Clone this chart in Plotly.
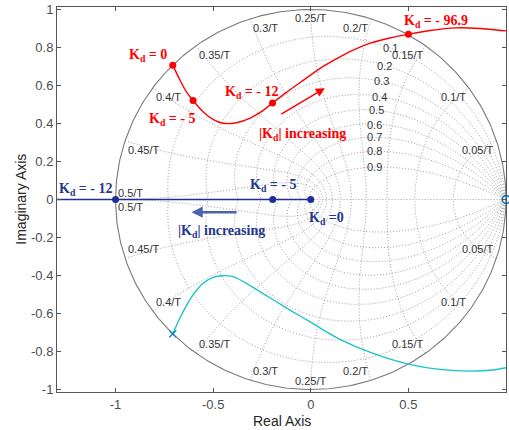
import numpy as np
import plotly.graph_objects as go

# ---------------- data ----------------
# upper complex branch (red)
red_x = [-0.707, -0.671, -0.637, -0.603, -0.552, -0.501, -0.449, -0.381, -0.313, -0.244,
         -0.196, -0.125, -0.039, 0.046, 0.149, 0.200, 0.302, 0.405, 0.504, 0.610,
         0.746, 0.866, 1.003]
red_y = [0.707, 0.630, 0.566, 0.521, 0.462, 0.422, 0.401, 0.404, 0.427, 0.469,
         0.508, 0.564, 0.627, 0.689, 0.750, 0.778, 0.822, 0.850, 0.870, 0.889,
         0.903, 0.900, 0.887]
# lower complex branch (cyan)
cyan_x = [-0.707, -0.671, -0.637, -0.603, -0.552, -0.501, -0.449, -0.398, -0.329, -0.261,
          -0.176, -0.091, -0.005, 0.080, 0.149, 0.319, 0.499, 0.661, 0.815, 0.934, 1.011]
cyan_y = [-0.707, -0.625, -0.558, -0.502, -0.441, -0.410, -0.401, -0.406, -0.441, -0.485,
          -0.538, -0.591, -0.643, -0.696, -0.736, -0.810, -0.866, -0.894, -0.903, -0.897, -0.883]
# real-axis branch (navy)
real_x = [-1.4, 0.0]
real_y = [0.0, 0.0]

# marked gains
red_k_x = [-0.707, -0.603, -0.196, 0.500]
red_k_y = [0.707, 0.521, 0.508, 0.869]
navy_k_x = [0.0, -0.195, -1.0]
navy_k_y = [0.0, 0.0, 0.0]

pole_x = [-0.707]
pole_y = [-0.707]
zero_x = [1.0]
zero_y = [0.0]

# z-grid parameters
zetas = [0.1, 0.2, 0.3, 0.4, 0.5, 0.6, 0.7, 0.8, 0.9]
wn_fracs = [0.05, 0.1, 0.15, 0.2, 0.25, 0.3, 0.35, 0.4, 0.45, 0.5]   # label value /T
zeta_label_pos = [(0.408, 0.796), (0.379, 0.704), (0.362, 0.624), (0.350, 0.541),
                  (0.337, 0.471), (0.328, 0.392), (0.328, 0.327), (0.328, 0.255),
                  (0.328, 0.173)]

xticks = [-1, -0.5, 0, 0.5, 1]
yticks = [-1, -0.8, -0.6, -0.4, -0.2, 0, 0.2, 0.4, 0.6, 0.8, 1]

RED = "#ff0000"
NAVY = "#1c2f96"
CYAN = "#19c3c8"
MBLUE = "#0072BD"
GRID = "#949494"

fig = go.Figure()

# ---------------- z-grid ----------------
gx, gy = [], []
th = np.linspace(0, np.pi, 300)
for z in zetas:
    m = np.tan(np.arcsin(z))
    zz = np.exp(th * (-m + 1j))
    gx += list(zz.real) + [None] + list(zz.real) + [None]
    gy += list(zz.imag) + [None] + list(-zz.imag) + [None]
zs = np.linspace(0, 1, 200)
for f in wn_fracs:
    wn = 2 * np.pi * f
    zz = np.exp(wn * (-zs + 1j * np.sqrt(1 - zs ** 2)))
    gx += list(zz.real) + [None] + list(zz.real) + [None]
    gy += list(zz.imag) + [None] + list(-zz.imag) + [None]
gx += [-1, 1, None]
gy += [0, 0, None]
fig.add_trace(go.Scatter(x=gx, y=gy, mode="lines", hoverinfo="skip",
                         line=dict(color=GRID, width=0.9, dash="1px,2px")))
tc = np.linspace(0, 2 * np.pi, 400)
fig.add_trace(go.Scatter(x=np.cos(tc), y=np.sin(tc), mode="lines", hoverinfo="skip",
                         line=dict(color="#7a7a7a", width=1.1)))

# ---------------- loci ----------------
fig.add_trace(go.Scatter(x=real_x, y=real_y, mode="lines", line=dict(color=NAVY, width=1.5)))
fig.add_trace(go.Scatter(x=red_x, y=red_y, mode="lines",
                         line=dict(color=RED, width=1.4, shape="spline", smoothing=0.6)))
fig.add_trace(go.Scatter(x=cyan_x, y=cyan_y, mode="lines",
                         line=dict(color=CYAN, width=1.4, shape="spline", smoothing=0.6)))
fig.add_trace(go.Scatter(x=pole_x, y=pole_y, mode="markers",
                         marker=dict(symbol="x-thin", size=7, line=dict(color=MBLUE, width=1.3))))
fig.add_trace(go.Scatter(x=zero_x, y=zero_y, mode="markers", cliponaxis=False,
                         marker=dict(symbol="circle-open", size=8, color=MBLUE, line=dict(width=1.5))))
fig.add_trace(go.Scatter(x=red_k_x, y=red_k_y, mode="markers", marker=dict(color=RED, size=7)))
fig.add_trace(go.Scatter(x=navy_k_x, y=navy_k_y, mode="markers", marker=dict(color=NAVY, size=7)))

ann = []
gfont = dict(family="Liberation Sans, Arial", size=11, color="#333333")
# zeta labels
for z, (lx, ly) in zip(zetas, zeta_label_pos):
    ann.append(dict(x=lx, y=ly, text=f"{z:g}", showarrow=False, font=gfont,
                    xanchor="center", yanchor="middle"))
# wn labels placed at unit circle
for f in wn_fracs:
    wn = 2 * np.pi * f
    cx, cy = np.cos(wn), np.sin(wn)
    if abs(cx) < 0.05:
        xa = "center"
    elif cx > 0:
        xa = "right"
    else:
        xa = "left"
    txt = f"{f:g}/T"
    xs = -1 if xa == "right" else (1 if xa == "left" else 0)
    if f == 0.5:
        ann.append(dict(x=cx, y=cy, text=txt, showarrow=False, font=gfont, xanchor="left", yanchor="bottom",
                        yshift=-1))
        ann.append(dict(x=cx, y=-cy, text=txt, showarrow=False, font=gfont, xanchor="left", yanchor="top",
                        yshift=1))
    else:
        ann.append(dict(x=cx, y=cy, text=txt, showarrow=False, font=gfont, xanchor=xa, yanchor="top",
                        xshift=xs, yshift=-1))
        ann.append(dict(x=cx, y=-cy, text=txt, showarrow=False, font=gfont, xanchor=xa, yanchor="bottom",
                        xshift=xs, yshift=1))

kfont_r = dict(family="Liberation Serif, Times New Roman", size=14, color=RED)
kfont_n = dict(family="Liberation Serif, Times New Roman", size=14, color="#22388c")
red_texts = [(-0.943, 0.771, "<b>K<sub>d</sub> = 0</b>"),
             (-0.840, 0.439, "<b>K<sub>d</sub> = - 5</b>"),
             (-0.451, 0.579, "<b>K<sub>d</sub> = - 12</b>"),
             (0.465, 0.955, "<b>K<sub>d</sub> = - 96.9</b>"),
             (-0.278, 0.357, "<b>|K<sub>d</sub>| increasing</b>")]
navy_texts = [(-1.298, 0.067, "<b>K<sub>d</sub> = - 12</b>"),
              (-0.323, 0.087, "<b>K<sub>d</sub> = - 5</b>"),
              (-0.020, -0.082, "<b>K<sub>d</sub> =0</b>"),
              (-0.692, -0.150, "<b>|K<sub>d</sub>| increasing</b>")]
for x, y, t in red_texts:
    ann.append(dict(x=x, y=y, text=t, showarrow=False, font=kfont_r, xanchor="left", yanchor="middle", yshift=-3))
for x, y, t in navy_texts:
    ann.append(dict(x=x, y=y, text=t, showarrow=False, font=kfont_n, xanchor="left", yanchor="middle", yshift=-3))

# arrows
ann.append(dict(x=0.072, y=0.586, ax=-0.159, ay=0.445, xref="x", yref="y", axref="x", ayref="y",
                text="", showarrow=True, arrowhead=2, arrowsize=1.2, arrowwidth=1.5, arrowcolor=RED))
ann.append(dict(x=-0.611, y=-0.067, ax=-0.372, ay=-0.067, xref="x", yref="y", axref="x", ayref="y",
                text="", showarrow=True, arrowhead=2, arrowsize=0.9, arrowwidth=2.5, arrowcolor="#4a62b0"))

# axis titles
tfont = dict(family="Liberation Sans, Arial", size=14, color="#262626")
ann.append(dict(xref="paper", yref="paper", x=0.5, y=-0.075, text="Real Axis", showarrow=False,
                font=tfont, xanchor="center", yanchor="middle"))
ann.append(dict(xref="paper", yref="paper", x=-0.082, y=0.5, text="Imaginary Axis", showarrow=False,
                font=tfont, xanchor="center", yanchor="middle", textangle=-90))

axis_common = dict(showgrid=False, zeroline=False, showline=True, linecolor="#555555", linewidth=1,
                   mirror="ticks", ticks="inside", ticklen=4, tickcolor="#555555",
                   tickfont=dict(family="Liberation Sans, Arial", size=13, color="#4d4d4d"))

fig.update_layout(
    width=509, height=430,
    margin=dict(l=57, r=3, t=7, b=38),
    paper_bgcolor="white", plot_bgcolor="white",
    showlegend=False,
    annotations=ann,
    xaxis=dict(range=[-1.3, 1.0], tickvals=xticks, ticktext=[f"{v:g}" for v in xticks], **axis_common),
    yaxis=dict(range=[-1.013, 1.013], tickvals=yticks, ticktext=[f"{v:g}" for v in yticks], **axis_common),
)

fig.write_html("out.html")
